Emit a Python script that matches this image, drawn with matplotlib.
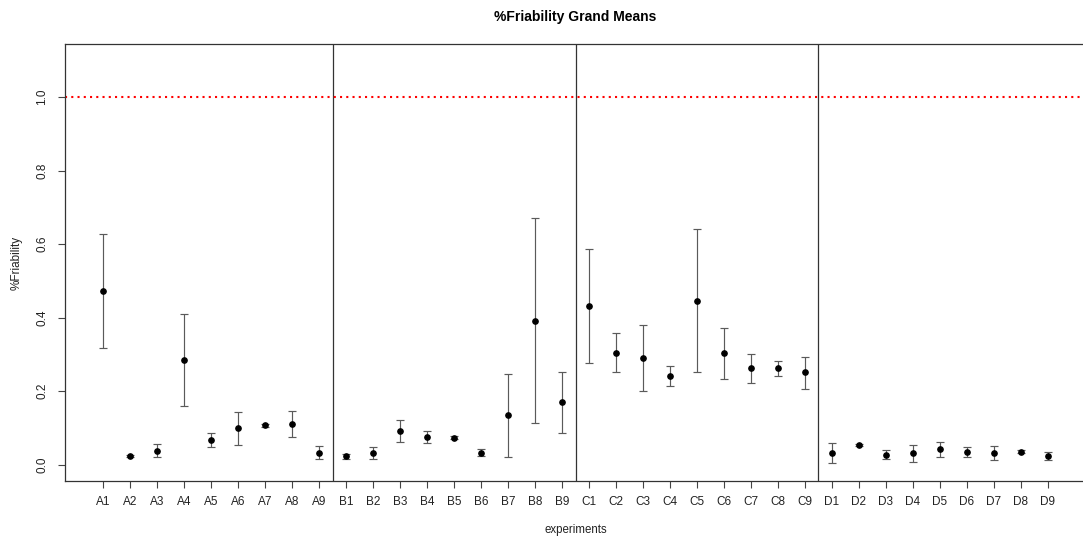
import matplotlib
matplotlib.use("Agg")
import matplotlib.pyplot as plt
import numpy as np

plt.rcParams['font.family'] = ['Liberation Sans', 'DejaVu Sans']

labels = [f"{g}{i}" for g in "ABCD" for i in range(1, 10)]

means = [0.473, 0.025, 0.038, 0.284, 0.068, 0.099, 0.107, 0.111, 0.033,
         0.023, 0.033, 0.092, 0.075, 0.074, 0.033, 0.135, 0.392, 0.170,
         0.431, 0.303, 0.290, 0.241, 0.446, 0.303, 0.262, 0.262, 0.251,
         0.033, 0.053, 0.028, 0.033, 0.042, 0.034, 0.033, 0.036, 0.025]
upper = [0.628, 0.028, 0.056, 0.409, 0.087, 0.143, 0.110, 0.146, 0.050,
         0.030, 0.048, 0.121, 0.091, 0.077, 0.043, 0.248, 0.670, 0.252,
         0.587, 0.359, 0.380, 0.269, 0.640, 0.372, 0.301, 0.283, 0.294,
         0.060, 0.056, 0.040, 0.054, 0.062, 0.048, 0.052, 0.039, 0.035]
lower = [0.318, 0.022, 0.020, 0.161, 0.048, 0.054, 0.104, 0.075, 0.015,
         0.015, 0.016, 0.062, 0.060, 0.071, 0.023, 0.022, 0.114, 0.087,
         0.276, 0.251, 0.202, 0.213, 0.251, 0.232, 0.223, 0.241, 0.207,
         0.006, 0.050, 0.016, 0.009, 0.022, 0.022, 0.013, 0.033, 0.013]
group_breaks = [9.5, 18.5, 27.5]
ref_line = 1.0
yticks = [0.0, 0.2, 0.4, 0.6, 0.8, 1.0]

W, H = 1083, 540
fig = plt.figure(figsize=(W / 100, H / 100), dpi=100)
left, right, top, bottom = 65, 1086, 44, 481
ax = fig.add_axes([left / W, 1 - bottom / H, (right - left) / W, (bottom - top) / H])

x = np.arange(1, len(labels) + 1)
m = np.array(means)
yerr = np.vstack([m - np.array(lower), np.array(upper) - m])
ax.errorbar(x, m, yerr=yerr, fmt='none', ecolor='#5a5a5a', elinewidth=0.85,
            capsize=2.8, capthick=0.85, zorder=2)
ax.plot(x, m, 'o', color='black', markersize=3.8, zorder=3)

for b in group_breaks:
    ax.axvline(b, color='#333333', lw=0.9, zorder=1)
ax.axhline(ref_line, color='red', lw=1.5, linestyle=(0, (1, 2)), zorder=1)

ax.set_xlim(-0.41, 37.41)
ax.set_ylim(-0.044, 1.144)
ax.set_xticks(x)
ax.set_xticklabels(labels, fontsize=8.5, color='#222222')
ax.set_yticks(yticks)
ax.set_yticklabels([f"{v:.1f}" for v in yticks], fontsize=8.5, rotation=90,
                   va='center', color='#222222')
ax.tick_params(axis='both', direction='out', length=5, width=0.8, color='#444444')
ax.tick_params(axis='x', pad=6)
ax.tick_params(axis='y', pad=7)
for s in ax.spines.values():
    s.set_color('#333333')
    s.set_linewidth(0.9)

fig.text((left + right) / 2 / W, 1 - 17 / H, '%Friability Grand Means',
         ha='center', va='center', fontsize=10, fontweight='bold')
fig.text((left + right) / 2 / W, 1 - 530 / H, 'experiments',
         ha='center', va='center', fontsize=8.3, color='#222222')
fig.text(17 / W, 1 - 263 / H, '%Friability', ha='center', va='center',
         rotation=90, fontsize=8.5, color='#222222')

fig.savefig('out.png', dpi=100)
